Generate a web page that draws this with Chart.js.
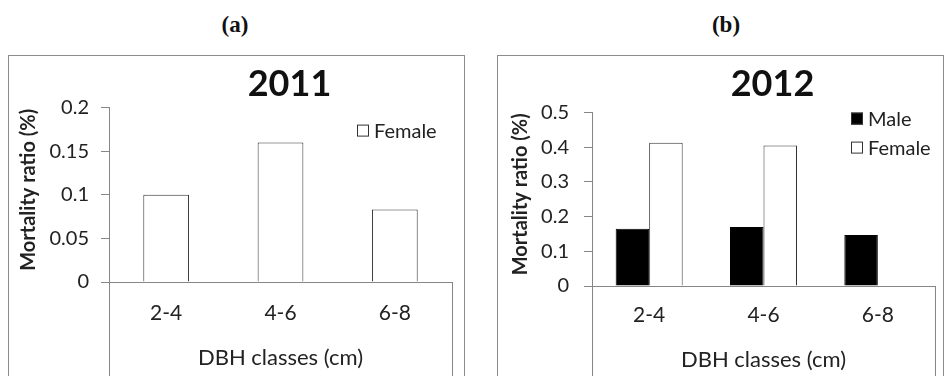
<!DOCTYPE html>
<html>
<head>
<meta charset="utf-8">
<script src="https://cdn.jsdelivr.net/npm/chart.js@4/dist/chart.umd.min.js"></script>
<style>
  html, body { margin: 0; padding: 0; background: #fff; }
  body { width: 944px; height: 376px; overflow: hidden; position: relative; }
  .tag { position: absolute; top: 11px; width: 80px; text-align: center;
         font: bold 23px "Liberation Serif", serif; line-height: 28px; color: #111; }
  .box { position: absolute; top: 55px; height: 400px; border: 1px solid #8c8c8c; }
  canvas { position: absolute; top: 56px; }
</style>
</head>
<body>
<div class="tag" style="left:195px">(a)</div>
<div class="tag" style="left:686px">(b)</div>
<div class="box" style="left:8px; width:455px"></div>
<div class="box" style="left:497px; width:445px"></div>
<canvas id="chartA" width="455" height="320" style="left:9px"></canvas>
<canvas id="chartB" width="445" height="320" style="left:498px"></canvas>
<script>
const categories = ['2-4', '4-6', '6-8'];
const female2011 = [0.1, 0.16, 0.083];
const male2012 = [0.165, 0.17, 0.147];
const female2012 = [0.413, 0.405, 0];
const yTicks2011 = [0, 0.05, 0.1, 0.15, 0.2];
const yTicks2012 = [0, 0.1, 0.2, 0.3, 0.4, 0.5];

const axisGray = '#868686';
const textColor = '#222';
const FONT = 'Lato';

// legend drawn inside the plot area, top right, like the Excel original
const boxLegend = {
  id: 'boxLegend',
  afterDraw(chart, args, opts) {
    const {ctx, chartArea} = chart;
    ctx.save();
    ctx.font = '20px ' + FONT;
    ctx.textBaseline = 'middle';
    chart.data.datasets.forEach((ds, i) => {
      const x = chartArea.right + opts.dx;
      const y = chartArea.top + opts.dy + i * opts.gap;
      ctx.fillStyle = ds.backgroundColor;
      ctx.fillRect(x, y - 6, 12, 12);
      ctx.strokeStyle = '#333';
      ctx.lineWidth = 1;
      ctx.strokeRect(x + 0.5, y - 5.5, 11, 11);
      ctx.fillStyle = textColor;
      ctx.fillText(ds.label, x + 17, y + 1);
    });
    ctx.restore();
  }
};

// the long lines under the category axis at both ends
const edgeLines = {
  id: 'edgeLines',
  afterDraw(chart) {
    const {ctx, chartArea, height} = chart;
    ctx.save();
    ctx.strokeStyle = axisGray;
    ctx.lineWidth = 1;
    ctx.beginPath();
    [chartArea.left, chartArea.right].forEach(x => {
      const px = Math.round(x) + 0.5;
      ctx.moveTo(px, chartArea.bottom);
      ctx.lineTo(px, height);
    });
    ctx.stroke();
    ctx.restore();
  }
};

function makeConfig(title, datasets, yMax, yTicks, p) {
  return {
    type: 'bar',
    data: { labels: categories, datasets: datasets },
    plugins: [boxLegend, edgeLines],
    options: {
      responsive: false,
      animation: false,
      categoryPercentage: p.catPct,
      barPercentage: 1,
      layout: { padding: { left: 0, right: p.right, top: 0, bottom: 0 } },
      plugins: {
        legend: { display: false },
        tooltip: { enabled: false },
        title: {
          display: true,
          text: '\u2002' + title,   // nudged a little right of the plot centre
          fullSize: false,
          color: '#111',
          font: { family: FONT, size: 36, weight: 'bold' },
          padding: { top: 7, bottom: p.titleGap }
        },
        boxLegend: p.legend
      },
      scales: {
        x: {
          afterFit: scale => { scale.height = p.xH; },
          grid: { display: false, drawTicks: false },
          border: { display: true, color: axisGray, width: 1 },
          ticks: { color: textColor, padding: p.xPad, font: { family: FONT, size: 21 } },
          title: {
            display: true, text: 'DBH classes (cm)', color: textColor,
            font: { family: FONT, size: 22 }, padding: { top: 0, bottom: p.xtBottom }
          }
        },
        y: {
          min: 0,
          max: yMax,
          afterFit: scale => { scale.width = p.yW; },
          afterBuildTicks: scale => { scale.ticks = yTicks.map(v => ({ value: v })); },
          grid: { drawOnChartArea: false, drawTicks: true, tickLength: 8, color: axisGray },
          border: { display: true, color: axisGray, width: 1 },
          ticks: {
            color: textColor, padding: p.tickPad,
            font: { family: FONT, size: 20 },
            callback: v => String(+(+v).toFixed(3))
          },
          title: {
            display: true, text: '\u2002Mortality ratio (%)', color: textColor,
            font: { family: FONT, size: 20, weight: 'bold' },
            padding: { top: p.ytTop, bottom: 0 }
          }
        }
      }
    }
  };
}

new Chart(document.getElementById('chartA'), makeConfig('2011', [
  { label: 'Female', data: female2011, backgroundColor: '#ffffff', borderColor: '#333', borderWidth: 1, borderSkipped: 'start' }
], 0.2, yTicks2011, {
  catPct: 0.40, right: 12, titleGap: 1.4,
  xH: 94, xPad: 18.4, xtBottom: 4.8,
  yW: 100, tickPad: 12, ytTop: 8,
  legend: { dx: -95, dy: 23, gap: 29 }
}));

new Chart(document.getElementById('chartB'), makeConfig('2012', [
  { label: 'Male', data: male2012, backgroundColor: '#000000', borderColor: '#000', borderWidth: 1, borderSkipped: 'start' },
  { label: 'Female', data: female2012, backgroundColor: '#ffffff', borderColor: '#333', borderWidth: 1, borderSkipped: 'start' }
], 0.5, yTicks2012, {
  catPct: 0.586, right: 8, titleGap: 6.4,
  xH: 90, xPad: 16.4, xtBottom: 2.8,
  yW: 94, tickPad: 15, ytTop: 10.5,
  legend: { dx: -84, dy: 6, gap: 29 }
}));
</script>
</body>
</html>
